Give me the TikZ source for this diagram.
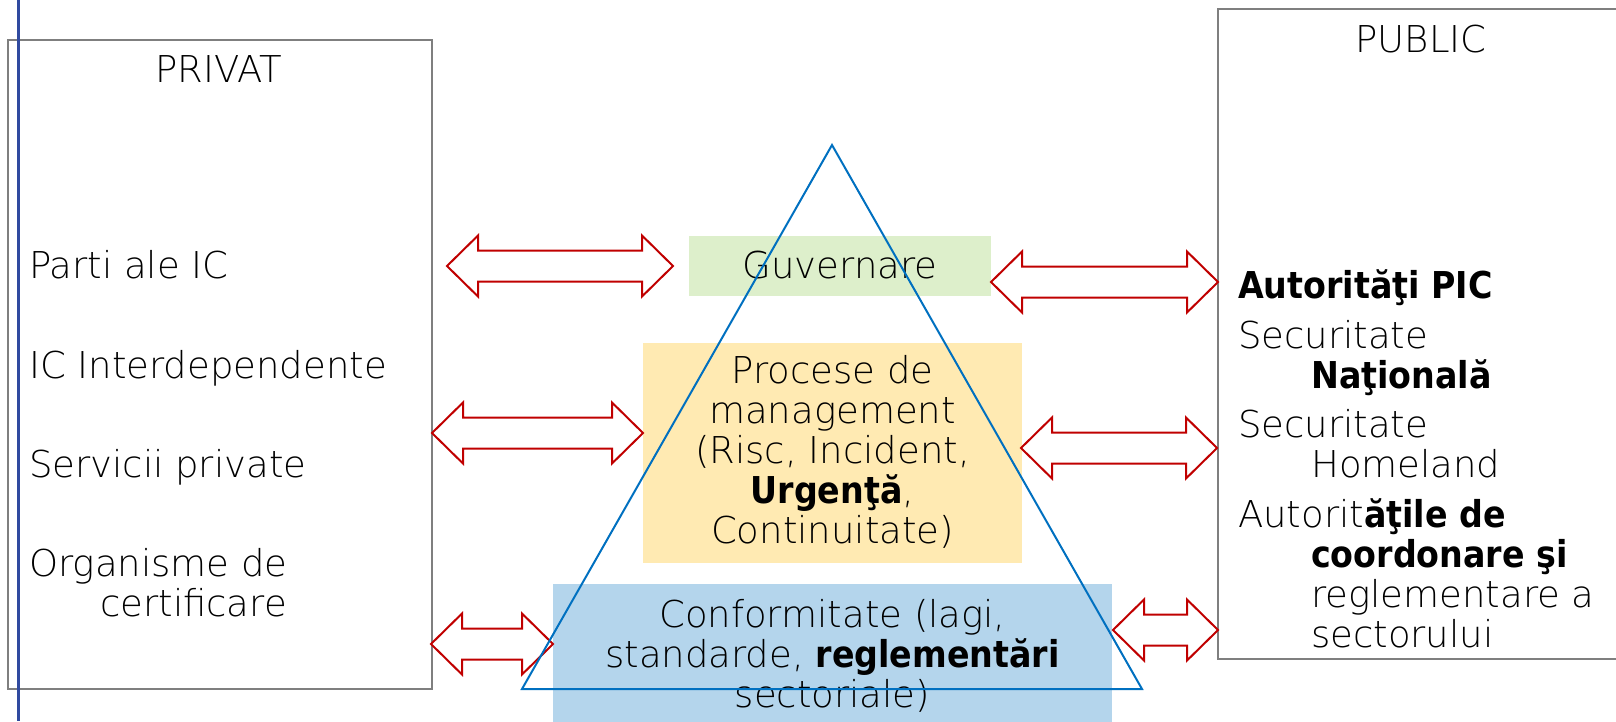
\documentclass[tikz,border=0pt]{standalone}
\usepackage{fontspec}
\setmainfont{DejaVu Sans ExtraLight}[BoldFont={DejaVu Sans Condensed Bold}]
\definecolor{boxgrey}{RGB}{127,127,127}
\definecolor{arrowred}{RGB}{192,0,0}
\definecolor{triblue}{RGB}{0,112,192}
\definecolor{sideblue}{RGB}{48,74,160}
\definecolor{govgreen}{RGB}{221,239,203}
\definecolor{procyellow}{RGB}{255,234,178}
\definecolor{confblue}{RGB}{180,213,236}
\newcommand{\dblarr}[3]{%
  \draw[dblarrow] (#1,#3) -- (#1+31,#3-30.5) -- (#1+31,#3-15.5) -- (#2-31,#3-15.5) -- (#2-31,#3-30.5) -- (#2,#3) -- (#2-31,#3+30.5) -- (#2-31,#3+15.5) -- (#1+31,#3+15.5) -- (#1+31,#3+30.5) -- cycle;}
\begin{document}
\begin{tikzpicture}[x=1pt,y=-1pt,
  txt/.style={inner sep=0pt, font=\fontsize{37}{40}\selectfont},
  group/.style={draw=boxgrey, line width=2pt},
  dblarrow/.style={draw=arrowred, line width=2pt, fill=white, line join=miter},
  band/.style={draw=none, inner sep=0pt, outer sep=0pt}]
\useasboundingbox (0,0) rectangle (1616,721);
% group boxes
\draw[group] (8,40) rectangle (432,689);
\draw[group] (1218,9) rectangle (1630,659);
% coloured bands
\node[band, fill=govgreen, minimum width=302pt, minimum height=60pt] (gov) at (840,266) {};
\node[band, fill=procyellow, minimum width=379pt, minimum height=220pt] (proc) at (832.5,453) {};
\node[band, fill=confblue, minimum width=559pt, minimum height=160pt] (conf) at (832.5,664) {};
% headings
\node[txt, anchor=base] (privat) at (219,82) {PRIVAT};
\node[txt, anchor=base] (public) at (1421,52) {PUBLIC};
% private items
\node[txt, anchor=base west] (p1) at (29,278) {Parti ale IC};
\node[txt, anchor=base west] (p2) at (29,378) {IC Interdependente};
\node[txt, anchor=base west] (p3) at (29,477) {Servicii private};
\node[txt, anchor=base west, align=left] (p4) at (29,616) {Organisme de\\\hspace*{71pt}certificare};
% public items
\node[txt, anchor=base west] (r1) at (1238,298) {\textbf{Autorităţi PIC}};
\node[txt, anchor=base west, align=left] (r2) at (1238,388) {Securitate\\\hspace*{73pt}\textbf{Naţională}};
\node[txt, anchor=base west, align=left] (r3) at (1238,477) {Securitate\\\hspace*{73pt}Homeland};
\node[txt, anchor=base west, align=left] (r4) at (1238,647) {Autorit\textbf{ăţile de}\\\hspace*{73pt}\textbf{coordonare şi}\\\hspace*{73pt}reglementare a\\\hspace*{73pt}sectorului};
% middle texts
\node[txt, anchor=base] (govtxt) at (840,278) {Guvernare};
\node[txt, anchor=base, align=center] (proctxt) at (832.5,543) {Procese de\\management\\(Risc, Incident,\\\textbf{Urgenţă},\\Continuitate)};
\node[txt, anchor=base, align=center] (conftxt) at (832.5,707) {Conformitate (lagi,\\standarde, \textbf{reglementări}\\sectoriale)};
% double arrows
\dblarr{447}{673}{266}
\dblarr{432}{643}{433}
\dblarr{431}{553}{644}
\dblarr{991}{1218}{282}
\dblarr{1021}{1217}{448}
\dblarr{1113}{1218}{630}
% triangle
\coordinate (apex) at (832,145);
\coordinate (bl) at (522,689);
\coordinate (br) at (1142,689);
\draw[triblue, line width=2pt, line join=miter] (bl) -- (apex) -- (br) -- cycle;
% side line
\coordinate (st) at (18.5,0);
\coordinate (sb) at (18.5,721);
\draw[sideblue, line width=3pt] (st) -- (sb);
\end{tikzpicture}
\end{document}
